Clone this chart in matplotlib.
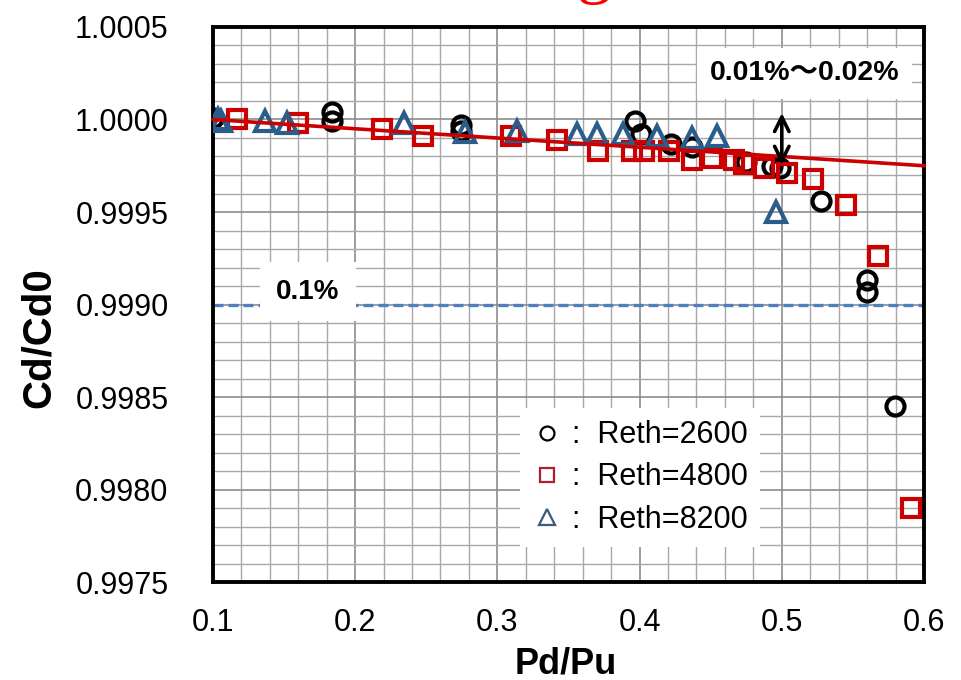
import matplotlib
matplotlib.use("Agg")
import matplotlib.pyplot as plt
from matplotlib.lines import Line2D
from matplotlib.ticker import MultipleLocator, FixedLocator

# ---- data ----
x_2600 = [0.100, 0.1836, 0.184, 0.2745, 0.2745, 0.397, 0.401, 0.422, 0.437, 0.4748, 0.4933, 0.4985, 0.5275, 0.560, 0.560, 0.5796]
y_2600 = [1.00001, 1.00004, 0.99999, 0.99997, 0.99994, 0.99999, 0.99992, 0.99987, 0.99985, 0.99977, 0.99975, 0.99974, 0.99956, 0.99913, 0.99907, 0.99845]

x_4800 = [0.117, 0.160, 0.2187, 0.2475, 0.3098, 0.342, 0.371, 0.395, 0.403, 0.421, 0.437, 0.451, 0.4666, 0.4736, 0.4876, 0.504, 0.5218, 0.545, 0.5677, 0.5909]
y_4800 = [1.00000, 0.99998, 0.99995, 0.99991, 0.99991, 0.99989, 0.99983, 0.99983, 0.99983, 0.99983, 0.99978, 0.99979, 0.99978, 0.99976, 0.99974, 0.99971, 0.99968, 0.99954, 0.99926, 0.99790]

x_8200 = [0.1035, 0.106, 0.1365, 0.152, 0.2340, 0.277, 0.314, 0.356, 0.370, 0.388, 0.412, 0.437, 0.4546, 0.496]
y_8200 = [1.00000, 0.99999, 0.99999, 0.99998, 0.99998, 0.99993, 0.99994, 0.99992, 0.99992, 0.99992, 0.99991, 0.99990, 0.99991, 0.99950]

fit_x = [0.1, 0.6]
fit_y = [1.00000, 0.99975]

limit_y = 0.9990

labels = ["Reth=2600", "Reth=4800", "Reth=8200"]
x_ticks = [0.1, 0.2, 0.3, 0.4, 0.5, 0.6]
y_ticks = [0.9975, 0.9980, 0.9985, 0.9990, 0.9995, 1.0000, 1.0005]

# ---- figure ----
plt.rcParams['font.family'] = ['Liberation Sans', 'DejaVu Sans']
fig = plt.figure(figsize=(9.61, 6.80), dpi=100)
ax = fig.add_axes([0.2216, 0.1441, 0.7399, 0.8162])

ax.set_xlim(0.1, 0.6)
ax.set_ylim(0.9975, 1.0005)
ax.xaxis.set_major_locator(FixedLocator(x_ticks))
ax.yaxis.set_major_locator(FixedLocator(y_ticks))
ax.xaxis.set_minor_locator(MultipleLocator(0.02))
ax.yaxis.set_minor_locator(MultipleLocator(0.0001))
ax.set_xticklabels([f"{v:.1f}" for v in x_ticks])
ax.set_yticklabels([f"{v:.4f}" for v in y_ticks])
ax.tick_params(which='both', length=0, labelsize=22)
ax.tick_params(axis='x', pad=19)
ax.tick_params(axis='y', pad=32)
ax.grid(which='minor', color='#a8a8a8', lw=1.0)
ax.grid(which='major', color='#8c8c8c', lw=1.2)
ax.set_axisbelow(True)
for s in ax.spines.values():
    s.set_linewidth(2.8)
    s.set_color('black')

ax.set_xlabel("Pd/Pu", fontsize=26, fontweight='bold')
ax.xaxis.set_label_coords(0.496, -0.116)
ax.set_ylabel("Cd/Cd0", fontsize=29, fontweight='bold')
ax.yaxis.set_label_coords(-0.218, 0.44)

# limit line
ax.axhline(limit_y, color='#4f7fbf', lw=2.4, ls=(0, (3, 1.5)), zorder=2)

# data
ax.plot(x_2600, y_2600, ls='none', marker='o', ms=13, mfc='none', mec='black', mew=3.0, zorder=3)
ax.plot(x_4800, y_4800, ls='none', marker='s', ms=13.5, mfc='none', mec='#cc0000', mew=3.0, zorder=3)
ax.plot(x_8200, y_8200, ls='none', marker='^', ms=14, mfc='none', mec='#2a5d8a', mew=3.0, zorder=3)

# fit line
ax.plot(fit_x, fit_y, color='#cc0000', lw=2.6, zorder=4, clip_on=False)

# double arrow
ax.annotate("", xy=(0.5, 1.00005), xytext=(0.5, 0.99974),
            arrowprops=dict(arrowstyle='<->', color='black', lw=2.6, mutation_scale=26), zorder=5)

# annotations
ax.text(0.1668, 0.99907, "0.1%", fontsize=20, fontweight='bold', ha='center', va='center',
        bbox=dict(facecolor='white', edgecolor='none', pad=12), zorder=3)
ax.text(0.516, 1.00025, "0.01%\uff5e0.02%", fontsize=20.5, fontweight='bold', ha='center', va='center',
        family=['Liberation Sans', 'Noto Sans CJK JP', 'DejaVu Sans'],
        bbox=dict(facecolor='white', edgecolor='none', pad=9), zorder=3)

# legend
handles = [
    Line2D([], [], ls='none', marker='o', ms=10, mfc='none', mec='black', mew=1.6),
    Line2D([], [], ls='none', marker='s', ms=10, mfc='none', mec='#b02030', mew=1.6),
    Line2D([], [], ls='none', marker='^', ms=11, mfc='none', mec='#3a5a7a', mew=1.6),
]
leg = ax.legend(handles, [":  " + l for l in labels], loc='upper left',
                bbox_to_anchor=(0.41, 0.341), fontsize=22, frameon=True,
                facecolor='white', edgecolor='none', framealpha=1.0, fancybox=False,
                handlelength=1.0, handletextpad=0.3, labelspacing=0.4, borderpad=0.4)
leg.set_zorder(6)

# clipped red title fragment at top
fig.text(0.619, 1.015, "g", color='red', fontsize=50, family='Liberation Serif',
         ha='center', va='baseline')

fig.savefig("out.png", dpi=100)
